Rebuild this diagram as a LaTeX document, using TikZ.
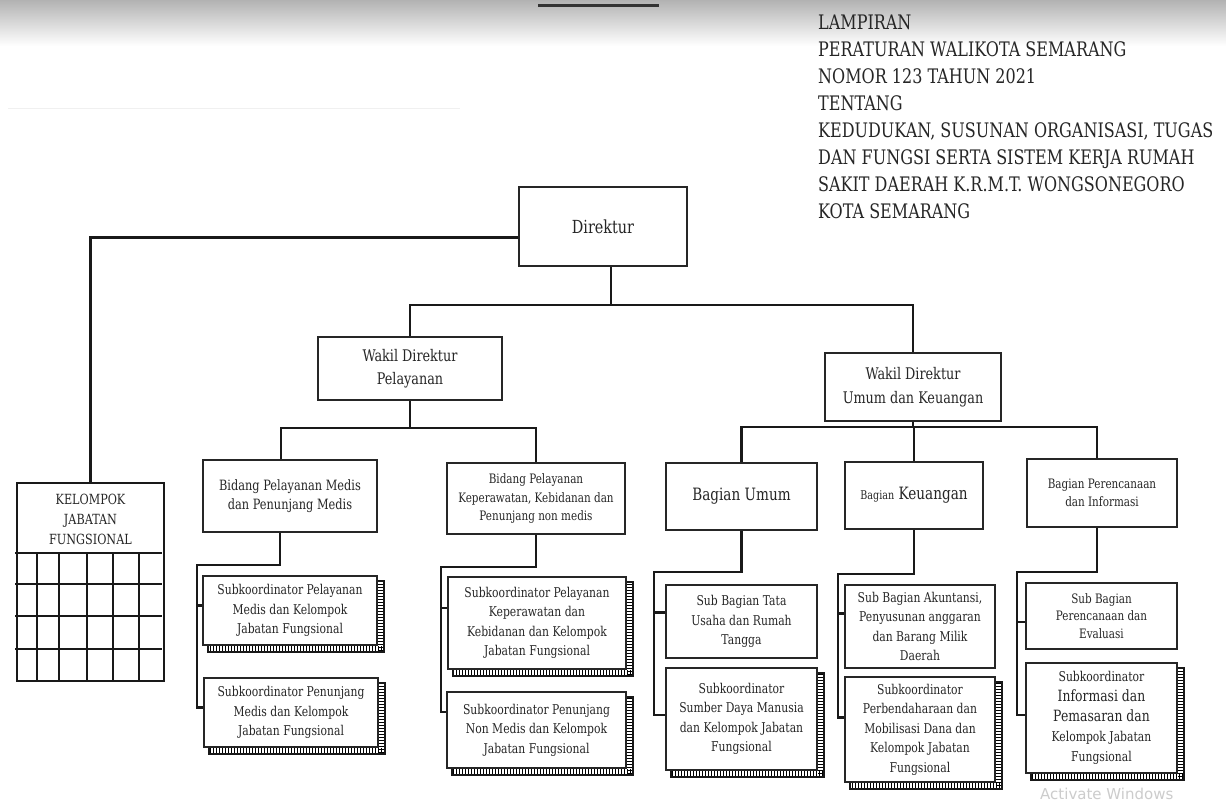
\documentclass[tikz,border=0pt]{standalone}
\usepackage{fontspec}
\setmainfont{DejaVu Serif}[FakeStretch=0.8]
\newfontfamily\wmfont{DejaVu Sans}
\usetikzlibrary{calc,patterns}
\newcommand\fs[2]{\fontsize{#1}{#2}\selectfont}
\tikzset{
  orgbox/.style={draw=black!85, line width=2pt, fill=white, inner sep=0pt, align=center, text=black!85},
  link/.style={draw=black!90, line width=2.6pt},
  gridline/.style={draw=black!90, line width=2.4pt},
}
% \orgnode[options]{name}{x1}{y1}{x2}{y2}{text}
\newcommand\orgnode[7][]{\node[orgbox,#1,minimum width={#5-#3},minimum height={#6-#4}] (#2) at ({(#3+#5)/2},{(#4+#6)/2}) {#7};}
\newcommand\hatchshadow[1]{%
  \fill[pattern=vertical lines, pattern color=black] ($(#1.south west)+(6,0)$) rectangle ($(#1.south east)+(6,6)$);
  \fill[pattern=horizontal lines, pattern color=black] ($(#1.north east)+(0,6)$) rectangle ($(#1.south east)+(6,6)$);
  \draw[line width=1.2pt, black!90] ($(#1.north east)+(0,6)$) -| ($(#1.south east)+(6,6)$) -| ($(#1.south west)+(6,0)$);
}
\begin{document}
\begin{tikzpicture}[x=1pt,y=-1pt]
\useasboundingbox (0,0) rectangle (1226,804);
\clip (0,0) rectangle (1226,804);
\fill[white] (0,0) rectangle (1226,804);
% top band
\shade[top color=black!30, middle color=black!20, bottom color=white] (0,0) rectangle (1226,46);
\draw[line width=3pt, black!80] (538,5) -- (659,5);
\draw[line width=0.8pt, black!6] (8,108) -- (460,108);

% header
\node[anchor=north west, inner sep=0pt, align=left, font=\fs{20}{27}, text=black!85] (header) at (818,15)
  {LAMPIRAN\\PERATURAN WALIKOTA SEMARANG\\NOMOR 123 TAHUN 2021\\TENTANG\\KEDUDUKAN, SUSUNAN ORGANISASI, TUGAS\\DAN FUNGSI SERTA SISTEM KERJA RUMAH\\SAKIT DAERAH K.R.M.T. WONGSONEGORO\\KOTA SEMARANG};

% top levels
\orgnode[font=\fs{18}{24}]{dir}{519}{187}{687}{266}{Direktur}
\orgnode[font=\fs{16}{23}]{wp}{318}{337}{502}{400}{Wakil Direktur\\Pelayanan}
\orgnode[font=\fs{16}{24}]{wu}{825}{353}{1001}{421}{Wakil Direktur\\Umum dan Keuangan}

% level 3
\orgnode[font=\fs{14.2}{19}]{bm}{203}{460}{377}{532}{Bidang Pelayanan Medis\\dan Penunjang Medis}
\orgnode[font=\fs{13}{18.5}]{bk}{447}{463}{625}{534}{Bidang Pelayanan\\Keperawatan, Kebidanan dan\\Penunjang non medis}
\orgnode[font=\fs{17}{22}]{bu}{666}{463}{817}{530}{Bagian Umum}
\orgnode[font=\fs{17}{22}]{bq}{845}{462}{983}{529}{{\fs{12}{22}Bagian} Keuangan}
\orgnode[font=\fs{13}{18}]{bp}{1027}{459}{1177}{527}{Bagian Perencanaan\\dan Informasi}

% KELOMPOK JABATAN FUNGSIONAL
\node[draw=black!90, line width=2.2pt, fill=white, inner sep=0pt, minimum width=147, minimum height=198] (kjf) at (90.5,582) {};
\node[font=\fs{14}{20}, align=center, text=black!85, inner sep=0pt] (kjft) at (90.5,519) {KELOMPOK\\JABATAN\\FUNGSIONAL};
\foreach \yy in {553,584,616,649} \draw[gridline] (15,\yy) -- (162,\yy);
\foreach \xx in {37,59,87,113,139} \draw[gridline] (\xx,553) -- (\xx,681);

% sub boxes
\orgnode[font=\fs{13.5}{19.5}]{s1}{203}{576}{377}{645}{Subkoordinator Pelayanan\\Medis dan Kelompok\\Jabatan Fungsional}
\orgnode[font=\fs{13.5}{19.5}]{s2}{204}{678}{378}{747}{Subkoordinator Penunjang\\Medis dan Kelompok\\Jabatan Fungsional}
\orgnode[font=\fs{13.5}{19.5}]{s3}{448}{577}{626}{669}{Subkoordinator Pelayanan\\Keperawatan dan\\Kebidanan dan Kelompok\\Jabatan Fungsional}
\orgnode[font=\fs{13.5}{19.5}]{s4}{447}{692}{626}{768}{Subkoordinator Penunjang\\Non Medis dan Kelompok\\Jabatan Fungsional}
\orgnode[font=\fs{13.5}{19.5}]{s5}{666}{585}{817}{658}{Sub Bagian Tata\\Usaha dan Rumah\\Tangga}
\orgnode[font=\fs{13.5}{19.5}]{s6}{666}{668}{817}{770}{Subkoordinator\\Sumber Daya Manusia\\dan Kelompok Jabatan\\Fungsional}
\orgnode[font=\fs{13.5}{19.5}]{s7}{845}{585}{995}{668}{Sub Bagian Akuntansi,\\Penyusunan anggaran\\dan Barang Milik\\Daerah}
\orgnode[font=\fs{13.5}{19.5}]{s8}{845}{677}{995}{782}{Subkoordinator\\Perbendaharaan dan\\Mobilisasi Dana dan\\Kelompok Jabatan\\Fungsional}
\orgnode[font=\fs{13}{17.5}]{s9}{1026}{583}{1177}{649}{Sub Bagian\\Perencanaan dan\\Evaluasi}
\orgnode[font=\fs{13.5}{20}]{s10}{1026}{663}{1177}{773}{Subkoordinator\\{\fs{15.5}{20}Informasi dan}\\{\fs{15.5}{20}Pemasaran dan}\\Kelompok Jabatan\\Fungsional}

\hatchshadow{s1}
\hatchshadow{s2}
\hatchshadow{s3}
\hatchshadow{s4}
\hatchshadow{s6}
\hatchshadow{s8}
\hatchshadow{s10}

% connectors
\coordinate (bus1) at (611,305);
\draw[link] (dir.south -| bus1) -- (bus1);
\draw[link] (wp.north) |- (bus1) -| (wu.north);
\draw[link] ([yshift=-11pt]dir.west) -| (kjf.north);

\coordinate (bus2) at (410,428);
\draw[link] (wp.south) -- (bus2);
\draw[link] ([xshift=-9pt]bm.north) |- (bus2) -| (bk.north);

\coordinate (bus3) at (913,427);
\draw[link] (wu.south) -- (bus3);
\draw[link] (bu.north) |- (bus3) -| ([xshift=-5pt]bp.north);
\draw[link] (bq.north) -- (bq.north |- bus3);

% column 1
\coordinate (t1) at (197,565);
\coordinate (b1) at ($(s1.west)+(0,-5)$);
\coordinate (b2) at ($(s2.west)+(0,-5)$);
\draw[link] ([xshift=-10pt]bm.south) |- (t1) |- (b2);
\draw[link] (b1 -| t1) -- (b1);
% column 2
\coordinate (t2) at (441,567);
\coordinate (b3) at ($(s3.west)+(0,-15)$);
\coordinate (b4) at ($(s4.west)+(0,-18)$);
\draw[link] (bk.south) |- (t2) |- (b4);
\draw[link] (b3 -| t2) -- (b3);
% column 3
\coordinate (t3) at (654,572);
\coordinate (b5) at ($(s5.west)+(0,-9)$);
\coordinate (b6) at ($(s6.west)+(0,-4)$);
\draw[link] (bu.south) |- (t3) |- (b6);
\draw[link] (b5 -| t3) -- (b5);
% column 4
\coordinate (t4) at (838,574);
\coordinate (b7) at ($(s7.west)+(0,-13)$);
\coordinate (b8) at ($(s8.west)+(0,-12)$);
\draw[link] (bq.south) |- (t4) |- (b8);
\draw[link] (b7 -| t4) -- (b7);
% column 5
\coordinate (t5) at (1017,572);
\coordinate (b9) at ($(s9.west)+(0,6)$);
\coordinate (b10) at ($(s10.west)+(0,-3)$);
\draw[link] ([xshift=-5pt]bp.south) |- (t5) |- (b10);
\draw[link] (b9 -| t5) -- (b9);

% watermark
\node[anchor=north west, inner sep=0pt, font=\wmfont\fontsize{15}{15}\selectfont, text=black!20] (wm) at (1040,788) {Activate Windows};
\end{tikzpicture}
\end{document}
